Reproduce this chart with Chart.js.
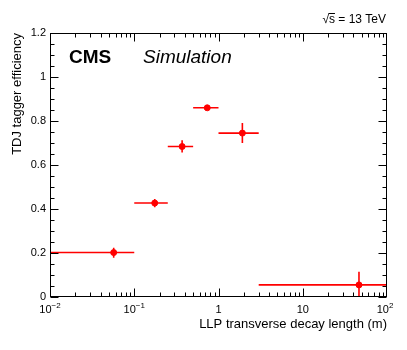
<!DOCTYPE html>
<html>
<head>
<meta charset="utf-8">
<script src="https://cdn.jsdelivr.net/npm/chart.js@4"></script>
<style>
  html, body { margin: 0; padding: 0; background: #fff; }
  #wrap { width: 407px; height: 350px; }
</style>
</head>
<body>
<div id="wrap"><canvas id="myChart" width="407" height="350"></canvas></div>
<script>
// efficiency vs LLP decay length (bins in m)
const xVal = [0.057, 0.175, 0.37, 0.735, 1.92, 46.5];
const xLow = [0.01, 0.1, 0.25, 0.5, 1, 3];
const xHigh = [0.1, 0.25, 0.5, 1, 3, 100];
const yVal = [0.202, 0.427, 0.684, 0.860, 0.745, 0.055];
const yErrUp = [0.022, 0.018, 0.028, 0.006, 0.046, 0.06];
const yErrDown = [0.024, 0.019, 0.027, 0.006, 0.045, 0.055];

const yTicks = [0, 0.2, 0.4, 0.6, 0.8, 1, 1.2];
const yTickLabels = ["0", "0.2", "0.4", "0.6", "0.8", "1", "1.2"];
const xTicks = [0.01, 0.1, 1, 10, 100];
const xTickBase = ["10", "10", "1", "10", "10"];
const xTickExp = ["\u22122", "\u22121", "", "", "2"];

const FONT = "'Liberation Sans', Arial, Helvetica, sans-serif";
const RED = "#ff0000";

const errorBars = {
  id: "errorBars",
  beforeDatasetsDraw(chart) {
    const ctx = chart.ctx;
    const xs = chart.scales.x, ys = chart.scales.y;
    ctx.save();
    ctx.strokeStyle = RED;
    ctx.lineWidth = 1.6;
    for (let i = 0; i < xVal.length; i++) {
      const px = xs.getPixelForValue(xVal[i]);
      const py = ys.getPixelForValue(yVal[i]);
      ctx.beginPath();
      ctx.moveTo(xs.getPixelForValue(xLow[i]), py);
      ctx.lineTo(xs.getPixelForValue(xHigh[i]), py);
      ctx.moveTo(px, ys.getPixelForValue(yVal[i] + yErrUp[i]));
      ctx.lineTo(px, ys.getPixelForValue(Math.max(0, yVal[i] - yErrDown[i])));
      ctx.stroke();
    }
    ctx.restore();
  }
};

const frame = {
  id: "frame",
  afterDraw(chart) {
    const ctx = chart.ctx;
    const a = chart.chartArea;
    const xs = chart.scales.x, ys = chart.scales.y;
    const L = Math.round(a.left) + 0.5, R = Math.round(a.right) - 0.5;
    const T = Math.round(a.top) + 0.5, B = Math.round(a.bottom) - 0.5;
    ctx.save();
    ctx.strokeStyle = "#000";
    ctx.lineWidth = 1;
    ctx.strokeRect(L, T, R - L, B - T);

    // y ticks, left and right
    ctx.beginPath();
    for (let v = 0; v <= 1.2001; v += 0.05) {
      const major = Math.abs(v / 0.2 - Math.round(v / 0.2)) < 1e-6;
      const len = major ? 8 : 4;
      const py = Math.round(ys.getPixelForValue(v)) + 0.5;
      ctx.moveTo(L, py); ctx.lineTo(L + len, py);
      ctx.moveTo(R, py); ctx.lineTo(R - len, py);
    }
    // x ticks, bottom and top (log)
    for (let d = -2; d < 2; d++) {
      for (let m = 1; m <= 9; m++) {
        const v = m * Math.pow(10, d);
        const len = m === 1 ? 8 : 4;
        const px = Math.round(xs.getPixelForValue(v)) + 0.5;
        ctx.moveTo(px, B); ctx.lineTo(px, B - len);
        ctx.moveTo(px, T); ctx.lineTo(px, T + len);
      }
    }
    const pEnd = Math.round(xs.getPixelForValue(100)) - 0.5;
    ctx.moveTo(pEnd, B); ctx.lineTo(pEnd, B - 8);
    ctx.moveTo(pEnd, T); ctx.lineTo(pEnd, T + 8);
    ctx.stroke();

    // tick labels
    ctx.fillStyle = "#000";
    ctx.font = "11px " + FONT;
    ctx.textAlign = "right";
    ctx.textBaseline = "middle";
    yTicks.forEach((v, i) => {
      ctx.fillText(yTickLabels[i], a.left - 4, ys.getPixelForValue(v));
    });
    ctx.textBaseline = "alphabetic";
    ctx.textAlign = "left";
    xTicks.forEach((v, i) => {
      ctx.font = "11px " + FONT;
      const wb = ctx.measureText(xTickBase[i]).width;
      ctx.font = "8px " + FONT;
      const we = xTickExp[i] ? ctx.measureText(xTickExp[i]).width : 0;
      let x0 = xs.getPixelForValue(v) - (wb + we) / 2;
      if (i === xTicks.length - 1) x0 -= 2;
      ctx.font = "11px " + FONT;
      ctx.fillText(xTickBase[i], x0, 313);
      if (xTickExp[i]) {
        ctx.font = "8px " + FONT;
        ctx.fillText(xTickExp[i], x0 + wb, 308);
      }
    });

    // axis titles
    ctx.font = "13px " + FONT;
    ctx.textAlign = "right";
    ctx.fillText("LLP transverse decay length (m)", a.right, 328);
    ctx.save();
    ctx.translate(21, a.top);
    ctx.rotate(-Math.PI / 2);
    ctx.textAlign = "right";
    ctx.fillText("TDJ tagger efficiency", 0, 0);
    ctx.restore();

    // CMS labels
    ctx.textAlign = "left";
    ctx.font = "bold 19px " + FONT;
    ctx.fillText("CMS", 69, 63);
    ctx.font = "italic 19px " + FONT;
    ctx.fillText("Simulation", 143, 63);

    // sqrt(s) = 13 TeV
    ctx.font = "12px " + FONT;
    const full = "\u221As = 13 TeV";
    const wFull = ctx.measureText(full).width;
    const wRoot = ctx.measureText("\u221A").width;
    const wS = ctx.measureText("s").width;
    const x0 = 386 - wFull;
    ctx.fillText(full, x0, 23);
    ctx.beginPath();
    ctx.moveTo(x0 + wRoot - 0.5, 13.5);
    ctx.lineTo(x0 + wRoot + wS, 13.5);
    ctx.stroke();
    ctx.restore();
  }
};

const data = {
  datasets: [{
    label: "eff",
    data: xVal.map((x, i) => ({ x: x, y: yVal[i] })),
    backgroundColor: RED,
    borderColor: RED,
    pointRadius: 3,
    pointHoverRadius: 3,
    showLine: false
  }]
};

const config = {
  type: "scatter",
  data: data,
  options: {
    responsive: false,
    animation: false,
    layout: { padding: { left: 50, top: 33, right: 20, bottom: 53 } },
    plugins: { legend: { display: false }, tooltip: { enabled: false } },
    scales: {
      x: { type: "logarithmic", min: 0.01, max: 100, display: false },
      y: { type: "linear", min: 0, max: 1.2, display: false }
    }
  },
  plugins: [errorBars, frame]
};

const myChart = new Chart(document.getElementById("myChart"), config);
</script>
</body>
</html>
